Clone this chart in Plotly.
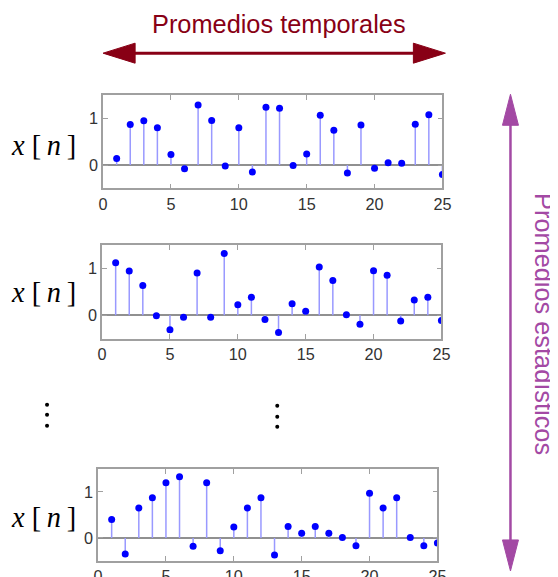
import plotly.graph_objects as go

# The capture maps the (slightly larger) page onto 558x577.  Layout
# positions below are given in target (screenshot) pixels and converted
# to page pixels with the measured mapping.
PAGE_OFF = 8          # default body margin
W, H = 558, 577       # figure size
KX, CX = 0.974, 5.2   # screenshot_x = KX * page_x + CX
SY = 585 / 577        # page_y = SY * screenshot_y

# ---------------- data ----------------
n = list(range(1, 26))
x_real1 = [0.14, 0.87, 0.95, 0.80, 0.23, -0.08, 1.29, 0.96, -0.02, 0.80,
           -0.15, 1.24, 1.22, -0.01, 0.24, 1.07, 0.75, -0.17, 0.86, -0.07,
           0.05, 0.04, 0.88, 1.08, -0.20]
x_real2 = [1.13, 0.95, 0.64, -0.01, -0.31, -0.04, 0.91, -0.04, 1.33, 0.23,
           0.39, -0.09, -0.37, 0.25, 0.09, 1.04, 0.75, 0.01, -0.19, 0.96,
           0.86, -0.12, 0.33, 0.39, -0.11]
x_real3 = [0.40, -0.35, 0.65, 0.87, 1.20, 1.33, -0.18, 1.20, -0.28, 0.24,
           0.65, 0.87, -0.37, 0.25, 0.10, 0.25, 0.10, 0.01, -0.17, 0.97,
           0.65, 0.87, 0.01, -0.17, -0.11]
x_ticks = [0, 5, 10, 15, 20, 25]
y_ticks = [0, 1]
x_range = [0, 25]
y_range = [-0.5, 1.5]
title_top = "Promedios temporales"
title_side = "Promedios estadísticos"
ylabel = "<i>x</i> [\u2009<i>n</i>\u2009]"

series = [x_real1, x_real2, x_real3]

# ---------------- styling / layout helpers ----------------
RED = "#880015"
PURPLE = "#A349A4"
FRAME = "#a0a0a0"
STEM = "#9999ff"
DOT = "#0000ff"

def px(x):
    return ((x - CX) / KX - PAGE_OFF) / W

def py(y):
    return 1 - (y * SY - PAGE_OFF) / H

def fs(s):
    return s * 1.014

# plot boxes in target pixels: (left, right, top, bottom)
boxes = [(103, 442, 95, 188), (102, 441, 245, 338), (98, 437, 468, 560)]
label_y = [145, 292, 517]

fig = go.Figure()
for i, vals in enumerate(series):
    xa = "x" if i == 0 else f"x{i+1}"
    ya = "y" if i == 0 else f"y{i+1}"
    sx, sy = [], []
    for k, v in zip(n, vals):
        sx += [k, k, None]
        sy += [0, v, None]
    fig.add_trace(go.Scatter(x=sx, y=sy, mode="lines",
                             line=dict(color=STEM, width=1.5),
                             xaxis=xa, yaxis=ya, hoverinfo="skip",
                             showlegend=False))
    fig.add_trace(go.Scatter(x=n, y=vals, mode="markers",
                             marker=dict(color=DOT, size=7),
                             xaxis=xa, yaxis=ya, showlegend=False))

layout = dict(width=W, height=H, autosize=False,
              margin=dict(l=0, r=0, t=0, b=0),
              paper_bgcolor="white", plot_bgcolor="white",
              font=dict(family="Arial, Liberation Sans, sans-serif"))

axis_common = dict(showline=True, linecolor=FRAME, linewidth=1.5,
                   mirror="ticks", ticks="inside", ticklen=5,
                   tickcolor=FRAME, tickwidth=1, showgrid=False,
                   tickfont=dict(size=fs(16), color="#333333"))

for i, (l, r, t, b) in enumerate(boxes):
    sfx = "" if i == 0 else str(i + 1)
    layout[f"xaxis{sfx}"] = dict(domain=[px(l), px(r)], range=x_range,
                                 tickvals=x_ticks, zeroline=False,
                                 anchor=f"y{sfx}", **axis_common)
    layout[f"yaxis{sfx}"] = dict(domain=[py(b), py(t)], range=y_range,
                                 tickvals=y_ticks, zeroline=True,
                                 zerolinecolor="#909090", zerolinewidth=1.5,
                                 anchor=f"x{sfx}", **axis_common)

fig.update_layout(**layout)

annotations = []
annotations.append(dict(text=title_top, x=px(278.5), y=py(24), xref="paper",
                        yref="paper", showarrow=False,
                        xanchor="center", yanchor="middle",
                        font=dict(size=fs(25), color=RED)))
annotations.append(dict(text=title_side, x=px(544), y=py(323), xref="paper",
                        yref="paper", showarrow=False, textangle=90,
                        xanchor="center", yanchor="middle",
                        font=dict(size=fs(25), color=PURPLE)))
for ly in label_y:
    annotations.append(dict(text=ylabel, x=px(43), y=py(ly), xref="paper",
                            yref="paper", showarrow=False,
                            xanchor="center", yanchor="middle",
                            font=dict(size=fs(28), color="black",
                                      family="Liberation Serif, serif")))

shapes = []
# horizontal arrow
ay = 53
shapes.append(dict(type="line", xref="paper", yref="paper",
                   x0=px(130), x1=px(418), y0=py(ay), y1=py(ay),
                   line=dict(color=RED, width=3)))
def tri(pts, color):
    d = "M " + " L ".join(f"{px(a)},{py(b)}" for a, b in pts) + " Z"
    return dict(type="path", xref="paper", yref="paper", path=d,
                fillcolor=color, line=dict(color=color, width=1))
shapes.append(tri([(103, ay), (135, ay - 10), (135, ay + 10)], RED))
shapes.append(tri([(445, ay), (413, ay - 10), (413, ay + 10)], RED))
# vertical arrow
vx = 510
shapes.append(dict(type="line", xref="paper", yref="paper",
                   x0=px(vx), x1=px(vx), y0=py(122), y1=py(542),
                   line=dict(color=PURPLE, width=2.5)))
shapes.append(tri([(vx, 94), (vx - 8, 125), (vx + 8, 125)], PURPLE))
shapes.append(tri([(vx, 570), (vx - 8, 539), (vx + 8, 539)], PURPLE))
# vertical ellipsis dots
for cx, cys in [(47, [404, 414, 425]), (277, [405, 416, 426])]:
    for cy in cys:
        shapes.append(dict(type="circle", xref="paper", yref="paper",
                           x0=px(cx - 2), x1=px(cx + 2),
                           y0=py(cy - 2), y1=py(cy + 2),
                           fillcolor="black", line=dict(color="black", width=0)))

fig.update_layout(annotations=annotations, shapes=shapes)
fig.write_html("out.html", config={"displayModeBar": False})
